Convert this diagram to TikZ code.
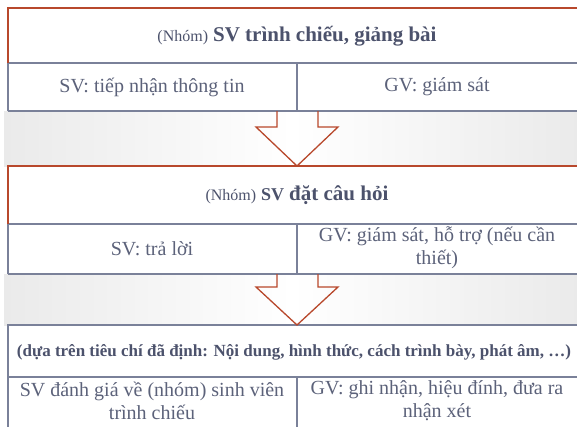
\documentclass[tikz,border=0pt]{standalone}
\usepackage{fontspec}
\setmainfont{Liberation Serif}
\definecolor{redline}{RGB}{184,72,44}
\definecolor{grayline}{RGB}{122,129,153}
\definecolor{txt}{RGB}{92,98,122}
\definecolor{txtb}{RGB}{76,82,108}
\definecolor{bandc}{RGB}{234,234,234}
\tikzset{
  redbd/.style={draw=redline, line width=1.4pt},
  graybd/.style={draw=grayline, line width=1.4pt},
  band/.style={left color=bandc, right color=bandc, middle color=white},
  celltext/.style={text=txt, font=\fontsize{20}{23}\selectfont, align=center, inner sep=0pt},
  headtext/.style={text=txtb, align=center, inner sep=0pt},
  blockarrow/.style={draw=redline, line width=1.3pt, line join=miter}
}
\begin{document}
\begin{tikzpicture}[x=1pt,y=-1pt]
\useasboundingbox (0,0) rectangle (577,426);
% bands
\fill[band] (4,111) rectangle (580,166);
\fill[band] (4,274) rectangle (580,325);
% box 1
\fill[white] (8,8) rectangle (580,111);
\draw[graybd] (8,63) -- (580,63);
\draw[graybd] (8,111) -- (580,111);
\draw[graybd] (8,63) -- (8,111);
\draw[graybd] (297,63) -- (297,111);
\draw[redbd] (8,63) -- (8,8) -- (580,8);
% box 2
\fill[white] (8,166) rectangle (580,274);
\draw[graybd] (8,224) -- (580,224);
\draw[graybd] (8,274) -- (580,274);
\draw[graybd] (8,224) -- (8,274);
\draw[graybd] (297,224) -- (297,274);
\draw[redbd] (8,224) -- (8,166) -- (580,166);
% box 3
\fill[white] (8,325) rectangle (580,430);
\draw[graybd] (8,377) -- (580,377);
\draw[graybd] (8,430) -- (8,325) -- (580,325);
\draw[graybd] (297,377) -- (297,430);
% arrows
\draw[blockarrow] (277,111) -- (277,127) -- (256,127) -- (297,166) -- (338,127) -- (318,127) -- (318,111);
\draw[blockarrow] (277,274) -- (277,287) -- (256,287) -- (297,325) -- (338,287) -- (318,287) -- (318,274);
% texts
\node[headtext] (h1) at (297,36) {{\fontsize{16}{18}\selectfont (Nhóm)}\hspace{5pt}{\fontsize{21}{24}\selectfont\bfseries SV trình chiếu, giảng bài}};
\node[celltext] (a1) at (152,87) {SV: tiếp nhận thông tin};
\node[celltext] (b1) at (437,87) {GV: giám sát};
\node[headtext] (h2) at (297,195) {{\fontsize{16}{18}\selectfont (Nhóm)}\hspace{5pt}{\fontsize{18}{20}\selectfont\bfseries SV}\hspace{5pt}{\fontsize{21}{24}\selectfont\bfseries đặt câu hỏi}};
\node[celltext] (a2) at (152,249) {SV: trả lời};
\node[celltext] (b2) at (437,248) {GV: giám sát, hỗ trợ (nếu cần\\thiết)};
\node[headtext] (h3) at (294,352) {\fontsize{17}{20}\selectfont\bfseries (dựa trên tiêu chí đã định: Nội dung, hình thức, cách trình bày, phát âm, …)};
\node[celltext] (a3) at (152,401) {SV đánh giá về (nhóm) sinh viên\\trình chiếu};
\node[celltext] (b3) at (437,401) {GV: ghi nhận, hiệu đính, đưa ra\\nhận xét};
\end{tikzpicture}
\end{document}
